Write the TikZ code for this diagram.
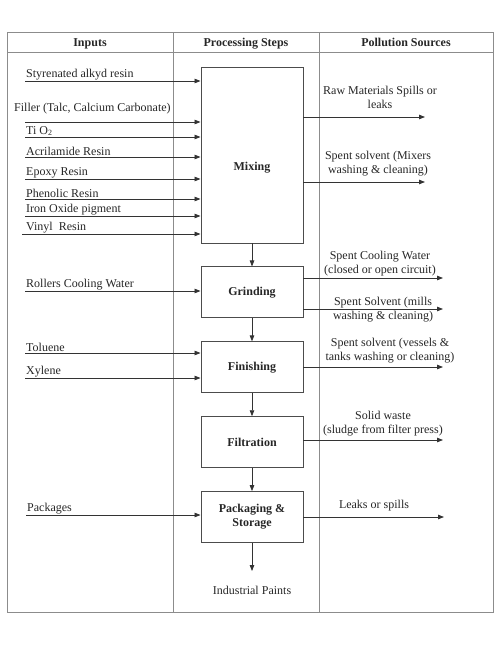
\documentclass[tikz,border=0pt]{standalone}
\usepackage{fontspec}
\setmainfont{Liberation Serif}
\usetikzlibrary{arrows.meta,positioning}

\begin{document}
\begin{tikzpicture}[x=1pt, y=-1pt,
  font=\fontsize{12}{14}\selectfont, text=black!85,
  frame/.style={draw=black!45, line width=1pt},
  stepbox/.style={draw=black!70, line width=0.9pt, minimum width=102pt, minimum height=51pt, align=center, font=\fontsize{12}{14}\selectfont\bfseries},
  head/.style={font=\fontsize{12}{14}\selectfont\bfseries},
  colhead/.style={head, anchor=base},
  inlbl/.style={anchor=south west, inner sep=1pt},
  outlbl/.style={align=center, inner sep=1pt},
  arrow/.style={-{Triangle[length=6pt,width=4.5pt]}, line width=0.8pt, black!80},
  node distance=23pt]

\useasboundingbox (0,0) rectangle (500,645);

% table
\draw[frame] (7,32) rectangle (493,612);
\draw[frame] (7,52) -- (493,52);
\draw[frame] (173,32) -- (173,612);
\draw[frame] (319,32) -- (319,612);
\node[colhead] (h1) at (90,46) {Inputs};
\node[colhead] (h2) at (246,46) {Processing Steps};
\node[colhead] (h3) at (406,46) {Pollution Sources};

% processing steps
\node[stepbox, minimum height=176pt, label={[head, yshift=-13pt]center:Mixing}] (mix) at (252,155) {};
\node[stepbox, below=of mix] (grind) {Grinding};
\node[stepbox, below=of grind] (fin) {Finishing};
\node[stepbox, below=of fin] (filt) {Filtration};
\node[stepbox, below=of filt] (pack) {Packaging \&\\Storage};
\node[below=40pt of pack] (prod) {Industrial Paints};

\draw[arrow] (mix) -- (grind);
\draw[arrow] (grind) -- (fin);
\draw[arrow] (fin) -- (filt);
\draw[arrow] (filt) -- (pack);
\draw[arrow, shorten >=12pt] (pack) -- (prod);

% inputs
\coordinate (s1) at (25,81);
\coordinate (s2) at (25,122);
\coordinate (s3) at (25,137);
\coordinate (s4) at (25,157);
\coordinate (s5) at (25,179);
\coordinate (s6) at (25,199);
\coordinate (s7) at (25,216);
\coordinate (s8) at (22,234);
\coordinate (s9) at (25,291);
\coordinate (s10) at (25,353);
\coordinate (s11) at (25,378);
\coordinate (s12) at (26,515);

\node[inlbl] (in1) at (s1) {Styrenated alkyd resin};
\node[inlbl] (in2) at (13,115) {Filler (Talc, Calcium Carbonate)};
\node[inlbl] (in3) at (s3) {Ti O\textsubscript{2}};
\node[inlbl] (in4) at (s4) {Acrilamide Resin};
\node[inlbl] (in5) at (s5) {Epoxy Resin};
\node[inlbl] (in6) at (s6) {Phenolic Resin};
\node[inlbl] (in7) at (s7) {Iron Oxide pigment};
\node[inlbl] (in8) at (25,234) {Vinyl~ Resin};
\node[inlbl] (in9) at (s9) {Rollers Cooling Water};
\node[inlbl] (in10) at (s10) {Toluene};
\node[inlbl] (in11) at (s11) {Xylene};
\node[inlbl] (in12) at (s12) {Packages};

\draw[arrow] (s1) -- (s1 -| mix.west);
\draw[arrow] (s2) -- (s2 -| mix.west);
\draw[arrow] (s3) -- (s3 -| mix.west);
\draw[arrow] (s4) -- (s4 -| mix.west);
\draw[arrow] (s5) -- (s5 -| mix.west);
\draw[arrow] (s6) -- (s6 -| mix.west);
\draw[arrow] (s7) -- (s7 -| mix.west);
\draw[arrow] (s8) -- (s8 -| mix.west);
\draw[arrow] (s9) -- (s9 -| grind.west);
\draw[arrow] (s10) -- (s10 -| fin.west);
\draw[arrow] (s11) -- (s11 -| fin.west);
\draw[arrow] (s12) -- (s12 -| pack.west);

% pollution sources
\node[outlbl] (out1) at (380,97) {Raw Materials Spills or\\leaks};
\node[outlbl] (out2) at (378,164) {Spent solvent (Mixers\\washing \& cleaning)};
\node[outlbl] (out3) at (380,264) {Spent Cooling Water\\(closed or open circuit)};
\node[outlbl] (out4) at (383,310) {Spent Solvent (mills\\washing \& cleaning)};
\node[outlbl] (out5) at (390,351) {Spent solvent (vessels \&\\tanks washing or cleaning)};
\node[outlbl] (out6) at (383,424) {Solid waste\\(sludge from filter press)};
\node[outlbl] (out7) at (374,506) {Leaks or spills};

\coordinate (e1) at (425,117);
\coordinate (e2) at (425,182);
\coordinate (e3) at (443,278);
\coordinate (e4) at (443,309);
\coordinate (e5) at (443,367);
\coordinate (e6) at (443,440);
\coordinate (e7) at (444,517);

\draw[arrow] (mix.east |- e1) -- (e1);
\draw[arrow] (mix.east |- e2) -- (e2);
\draw[arrow] (grind.east |- e3) -- (e3);
\draw[arrow] (grind.east |- e4) -- (e4);
\draw[arrow] (fin.east |- e5) -- (e5);
\draw[arrow] (filt.east |- e6) -- (e6);
\draw[arrow] (pack.east |- e7) -- (e7);
\end{tikzpicture}
\end{document}
